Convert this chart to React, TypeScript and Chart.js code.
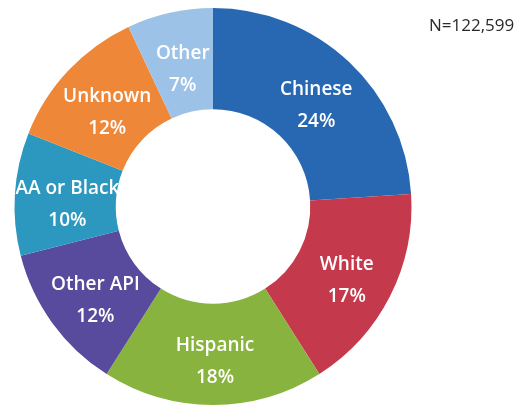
import React, { useEffect, useRef } from "react";
import { Chart, registerables } from "chart.js";

Chart.register(...registerables);

const categories = ["Chinese", "White", "Hispanic", "Other API", "AA or Black", "Unknown", "Other"];
const percents = [24, 17, 18, 12, 10, 12, 7];
const colors = ["#2868B2", "#C43A4C", "#89B33F", "#584A9C", "#2C98BF", "#EF8739", "#9DC2E8"];
const totalLabel = "N=122,599";

const labelPlugin = {
  id: "sliceLabels",
  afterDatasetsDraw(chart: any) {
    const ctx = chart.ctx;
    const meta = chart.getDatasetMeta(0);
    ctx.save();
    ctx.fillStyle = "#ffffff";
    ctx.textAlign = "center";
    ctx.textBaseline = "middle";
    ctx.font = "600 19px 'Open Sans', sans-serif";
    meta.data.forEach((arc: any, i: number) => {
      const p = arc.getCenterPoint();
      ctx.fillText(categories[i], p.x + 2, p.y - 9);
      ctx.fillText(percents[i] + "%", p.x + 2, p.y + 23);
    });
    ctx.fillStyle = "#2a2a2a";
    ctx.textAlign = "left";
    ctx.font = "17px 'Open Sans', sans-serif";
    ctx.fillText(totalLabel, 429, 26);
    ctx.restore();
  },
};

export default function App() {
  const ref = useRef<HTMLCanvasElement>(null);
  useEffect(() => {
    const chart = new Chart(ref.current!, {
      type: "doughnut",
      data: {
        labels: categories,
        datasets: [
          {
            data: percents,
            backgroundColor: colors,
            borderWidth: 0,
          },
        ],
      },
      options: {
        animation: false,
        responsive: false,
        cutout: "49%",
        layout: { padding: { left: 0, right: 96, top: 8, bottom: 4 } },
        plugins: {
          legend: { display: false },
          tooltip: { enabled: false },
        },
      },
      plugins: [labelPlugin],
    });
    return () => chart.destroy();
  }, []);
  return (
    <div style={{ position: "absolute", left: 0, top: 0, width: 522, height: 409, background: "#fff" }}>
      <canvas ref={ref} width={522} height={409} style={{ width: 522, height: 409 }} />
    </div>
  );
}
